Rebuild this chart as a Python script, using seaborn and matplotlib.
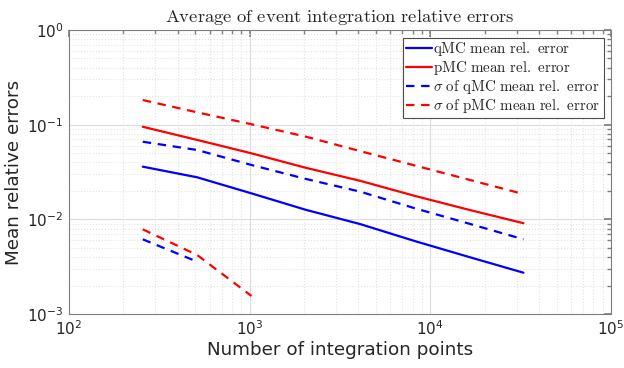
import numpy as np
import pandas as pd
import matplotlib
matplotlib.use("Agg")
import matplotlib.pyplot as plt
import seaborn as sns

# Number of integration points
n_points = [256, 512, 1024, 2048, 4096, 8192, 16384, 32768]

# Mean relative errors
qmc_mean = [0.036, 0.0278, 0.0188, 0.0126, 0.0089, 0.0059, 0.0040, 0.00273]
pmc_mean = [0.095, 0.069, 0.0498, 0.035, 0.0255, 0.0177, 0.0126, 0.0091]

# Standard deviations of the mean relative errors
qmc_sigma = [0.066, 0.054, 0.0375, 0.0267, 0.0196, 0.0131, 0.0090, 0.00615]
pmc_sigma = [0.182, 0.135, 0.101, 0.0747, 0.0525, 0.0371, 0.0262, 0.0185]

# Lower sigma branches (only defined while positive)
qmc_sigma_low_n = [256, 512]
qmc_sigma_low = [0.00615, 0.00357]
pmc_sigma_low_n = [256, 512, 1024]
pmc_sigma_low = [0.00784, 0.0042, 0.00155]

sns.set_theme(style="white")
plt.rcParams["mathtext.fontset"] = "cm"
plt.rcParams["font.family"] = ["DejaVu Sans"]

fig = plt.figure(figsize=(6.24, 3.68), dpi=100)
ax = fig.add_axes([69 / 624, 1 - 314 / 368, (611 - 69) / 624, (314 - 30) / 368])

dash = (0, (3.8, 3.0))
series = [
    (n_points, qmc_mean, "#0000ff", "-", r"$\mathrm{qMC\ mean\ rel.\ error}$"),
    (n_points, pmc_mean, "#ff0000", "-", r"$\mathrm{pMC\ mean\ rel.\ error}$"),
    (n_points, qmc_sigma, "#0000ff", dash, r"$\sigma\ \mathrm{of\ qMC\ mean\ rel.\ error}$"),
    (n_points, pmc_sigma, "#ff0000", dash, r"$\sigma\ \mathrm{of\ pMC\ mean\ rel.\ error}$"),
    (qmc_sigma_low_n, qmc_sigma_low, "#0000ff", dash, None),
    (pmc_sigma_low_n, pmc_sigma_low, "#ff0000", dash, None),
]

for xs, ys, color, ls, label in series:
    df = pd.DataFrame({"n": xs, "err": ys})
    line_ax = sns.lineplot(data=df, x="n", y="err", ax=ax, color=color,
                           linewidth=1.6, label=label, legend=False)
    line_ax.lines[-1].set_linestyle(ls)

ax.set_xscale("log")
ax.set_yscale("log")
ax.set_xlim(1e2, 1e5)
ax.set_ylim(1e-3, 1e0)

# Grid: faint solid major lines, dotted minor lines
ax.grid(True, which="major", color="#dcdcdc", linewidth=0.8, linestyle="-")
ax.grid(True, which="minor", color="#e3e3e3", linewidth=0.8, linestyle=":")
ax.set_axisbelow(True)

for spine in ax.spines.values():
    spine.set_color("#7f7f7f")
    spine.set_linewidth(0.8)

ax.tick_params(which="both", direction="in", top=True, right=True,
               color="#7f7f7f", labelcolor="#262626")
ax.tick_params(which="major", length=5, labelsize=11, pad=4)
ax.tick_params(which="minor", length=3)

ax.set_xlabel("Number of integration points", fontsize=13.2, color="#262626", labelpad=2)
ax.set_ylabel("Mean relative errors", fontsize=13.2, color="#262626", labelpad=3)
ax.set_title(r"$\mathrm{Average\ of\ event\ integration\ relative\ errors}$",
             fontsize=13.4, color="#262626", pad=6)

handles = [l for l in ax.lines if not l.get_label().startswith("_")]
leg = ax.legend(handles=handles, loc="upper right", fontsize=10.8,
                frameon=True, fancybox=False, framealpha=1,
                edgecolor="#4d4d4d", handlelength=1.7, handletextpad=0.1,
                borderpad=0.2, labelspacing=0.05, borderaxespad=0.5)
leg.get_frame().set_linewidth(0.8)

fig.savefig("out.png", dpi=100)
